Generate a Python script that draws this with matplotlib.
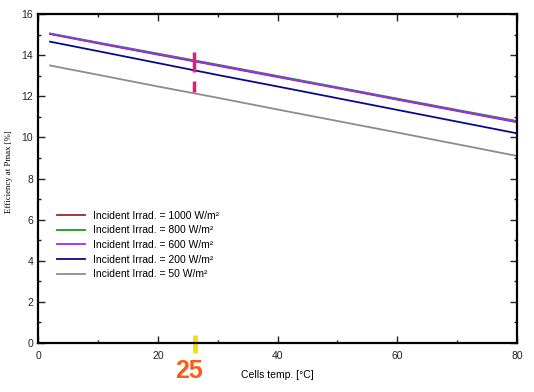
import matplotlib.pyplot as plt

# cell temperature [°C]
temps = [2, 10, 20, 30, 40, 50, 60, 70, 80]

# efficiency at Pmax [%] per incident irradiance
eff_1000 = [15.03, 14.58, 14.03, 13.49, 12.94, 12.40, 11.84, 11.29, 10.74]
eff_800 = [15.06, 14.62, 14.08, 13.54, 12.99, 12.44, 11.89, 11.34, 10.80]
eff_600 = [15.04, 14.60, 14.05, 13.51, 12.96, 12.41, 11.86, 11.31, 10.76]
eff_200 = [14.66, 14.20, 13.62, 13.04, 12.48, 11.91, 11.34, 10.77, 10.20]
eff_50 = [13.50, 13.05, 12.48, 11.93, 11.36, 10.80, 10.24, 9.67, 9.10]

labels = ["Incident Irrad. = 1000 W/m²", "Incident Irrad. = 800 W/m²",
          "Incident Irrad. = 600 W/m²", "Incident Irrad. = 200 W/m²",
          "Incident Irrad. = 50 W/m²"]
colors = ["#9b2a2a", "#1a9a1a", "#9a2cff", "#0a0a8a", "#8c8c8c"]

plt.rcParams['font.family'] = ['Liberation Sans', 'DejaVu Sans']

fig = plt.figure(figsize=(5.34, 3.92), dpi=100)
ax = fig.add_axes([0.0712, 0.125, 0.897, 0.839])

for ys, c, lab in zip([eff_1000, eff_800, eff_600, eff_200, eff_50], colors, labels):
    ax.plot(temps, ys, color=c, lw=1.3, label=lab)

ax.set_xlim(0, 80)
ax.set_ylim(0, 16)
ax.set_xticks([0, 20, 40, 60, 80])
ax.set_xticks([10, 30, 50, 70], minor=True)
ax.set_yticks(range(0, 17, 2))
ax.set_yticks(range(1, 16, 2), minor=True)
ax.tick_params(which='both', direction='in', top=True, right=True,
               labelsize=7.5, colors='#222222', width=1)
ax.tick_params(which='major', length=5)
ax.tick_params(which='minor', length=2.5)
ax.tick_params(axis='x', pad=6)
for s in ax.spines.values():
    s.set_linewidth(1.6)

ax.set_xlabel("Cells temp. [°C]", fontsize=7.5, labelpad=6)
ax.set_ylabel("Efficiency at Pmax [%]", fontsize=6.3, family=['Liberation Serif'])
ax.yaxis.set_label_coords(-0.052, 0.52)

ax.legend(loc='lower left', bbox_to_anchor=(0.02, 0.165), frameon=False,
          fontsize=7.5, handlelength=2.7, handletextpad=0.8, labelspacing=0.45)

# hand-drawn marks at 25 °C
ax.plot([26, 26], [13.2, 14.15], color='#e8197a', lw=2.5, solid_capstyle='butt')
ax.plot([26, 26], [12.2, 12.75], color='#e8197a', lw=2.5, solid_capstyle='butt')
ax.plot([26.2, 26.2], [-0.5, 0.4], color='#f5e000', lw=3.5, clip_on=False,
        solid_capstyle='butt')
ax.text(25.2, -1.36, "25", color='#ff5a10', fontsize=18, fontweight='bold',
        ha='center', va='center', clip_on=False)

fig.savefig("out.png", dpi=100)
